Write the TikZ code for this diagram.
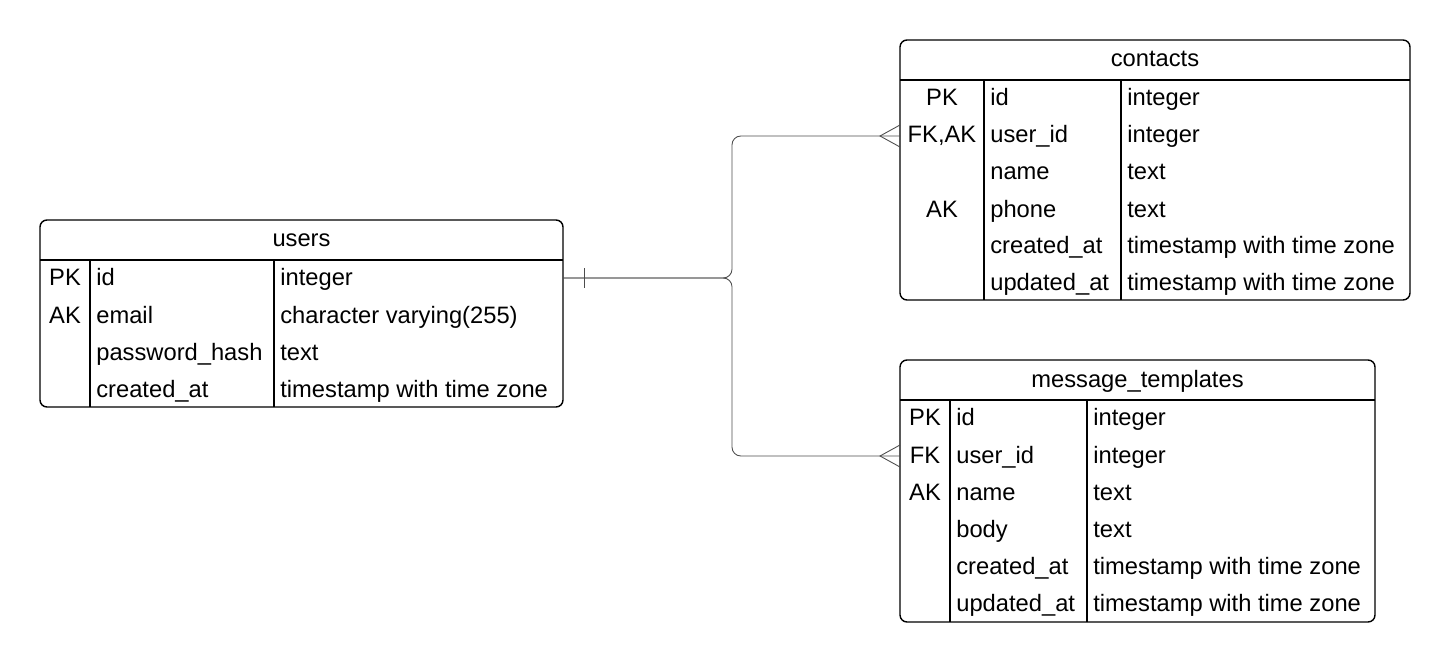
\documentclass[tikz,border=0pt]{standalone}
\usepackage{fontspec}
\setmainfont{Liberation Sans}
\tikzset{
  tablebox/.style={draw,line width=0.8pt,rounded corners=4},
  rule/.style={line width=0.8pt},
  titlecell/.style={anchor=base,inner sep=0pt},
  keycell/.style={anchor=base,inner sep=0pt},
  namecell/.style={anchor=base west,inner sep=0pt},
  rel/.style={black!70,line width=0.5pt},
}
\begin{document}
\begin{tikzpicture}[x=0.02cm,y=-0.02cm,font=\fontsize{13.5}{16}\selectfont]

\def\BASE{7}
\useasboundingbox (0,0) rectangle (1450,662);

% users
	\draw[tablebox] (40,220) rectangle (563,407);
	\draw[rule] (40,260) -- (563,260);
	\draw[rule] (90,260) -- (90,407);
	\draw[rule] (274,260) -- (274,407);
	\node[titlecell] (users) at (301.5,240+\BASE) {users};
	\node[keycell] (users-k1) at (65,278+\BASE) {PK};
	\node[namecell] (users-n1) at (96,278+\BASE) {id};
	\node[namecell] (users-t1) at (280,278+\BASE) {integer};
	\node[keycell] (users-k2) at (65,316+\BASE) {AK};
	\node[namecell] (users-n2) at (96,316+\BASE) {email};
	\node[namecell] (users-t2) at (280,316+\BASE) {character varying(255)};
	\node[namecell] (users-n3) at (96,353+\BASE) {password\_hash};
	\node[namecell] (users-t3) at (280,353+\BASE) {text};
	\node[namecell] (users-n4) at (96,390+\BASE) {created\_at};
	\node[namecell] (users-t4) at (280,390+\BASE) {timestamp with time zone};

% contacts
	\draw[tablebox] (900,40) rectangle (1410,300);
	\draw[rule] (900,80) -- (1410,80);
	\draw[rule] (984,80) -- (984,300);
	\draw[rule] (1121,80) -- (1121,300);
	\node[titlecell] (contacts) at (1155,60+\BASE) {contacts};
	\node[keycell] (contacts-k1) at (942,99+\BASE) {PK};
	\node[namecell] (contacts-n1) at (990,99+\BASE) {id};
	\node[namecell] (contacts-t1) at (1127,99+\BASE) {integer};
	\node[keycell] (contacts-k2) at (942,136+\BASE) {FK,AK};
	\node[namecell] (contacts-n2) at (990,136+\BASE) {user\_id};
	\node[namecell] (contacts-t2) at (1127,136+\BASE) {integer};
	\node[namecell] (contacts-n3) at (990,173+\BASE) {name};
	\node[namecell] (contacts-t3) at (1127,173+\BASE) {text};
	\node[keycell] (contacts-k4) at (942,210+\BASE) {AK};
	\node[namecell] (contacts-n4) at (990,210+\BASE) {phone};
	\node[namecell] (contacts-t4) at (1127,210+\BASE) {text};
	\node[namecell] (contacts-n5) at (990,247+\BASE) {created\_at};
	\node[namecell] (contacts-t5) at (1127,247+\BASE) {timestamp with time zone};
	\node[namecell] (contacts-n6) at (990,284+\BASE) {updated\_at};
	\node[namecell] (contacts-t6) at (1127,284+\BASE) {timestamp with time zone};

% message_templates
	\draw[tablebox] (900,360) rectangle (1375,622);
	\draw[rule] (900,400) -- (1375,400);
	\draw[rule] (950,400) -- (950,622);
	\draw[rule] (1087,400) -- (1087,622);
	\node[titlecell] (templates) at (1137.5,380+\BASE) {message\_templates};
	\node[keycell] (templates-k1) at (925,418+\BASE) {PK};
	\node[namecell] (templates-n1) at (956,418+\BASE) {id};
	\node[namecell] (templates-t1) at (1093,418+\BASE) {integer};
	\node[keycell] (templates-k2) at (925,456+\BASE) {FK};
	\node[namecell] (templates-n2) at (956,456+\BASE) {user\_id};
	\node[namecell] (templates-t2) at (1093,456+\BASE) {integer};
	\node[keycell] (templates-k3) at (925,493+\BASE) {AK};
	\node[namecell] (templates-n3) at (956,493+\BASE) {name};
	\node[namecell] (templates-t3) at (1093,493+\BASE) {text};
	\node[namecell] (templates-n4) at (956,530+\BASE) {body};
	\node[namecell] (templates-t4) at (1093,530+\BASE) {text};
	\node[namecell] (templates-n5) at (956,567+\BASE) {created\_at};
	\node[namecell] (templates-t5) at (1093,567+\BASE) {timestamp with time zone};
	\node[namecell] (templates-n6) at (956,604+\BASE) {updated\_at};
	\node[namecell] (templates-t6) at (1093,604+\BASE) {timestamp with time zone};

% relations
	\coordinate (users-id) at (563,278);
	\coordinate (fork) at (732,278);
	\coordinate (contacts-fk) at (900,136);
	\coordinate (templates-fk) at (900,456);
	\draw[rel,rounded corners=5] (users-id) -- (fork) |- (contacts-fk);
	\draw[rel,rounded corners=5] (users-id) -- (fork) |- (templates-fk);
	\draw[rel] (users-id) ++(21,-10) -- ++(0,20);
	\draw[rel] (contacts-fk) ++(0,-11) -- ++(-20,11) -- ++(20,11);
	\draw[rel] (templates-fk) ++(0,-11) -- ++(-20,11) -- ++(20,11);

\end{tikzpicture}
\end{document}
